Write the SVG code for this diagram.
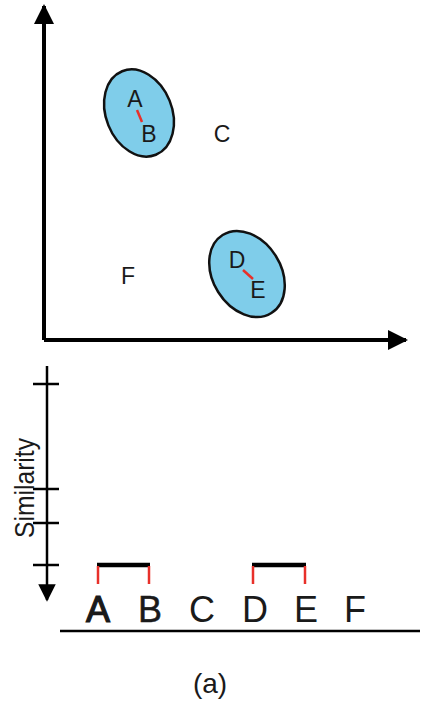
<svg xmlns="http://www.w3.org/2000/svg" width="423" height="708" viewBox="0 0 423 708">
<style>
.lbl{font-family:"Liberation Sans",Arial,sans-serif;fill:#1a1a1a;text-anchor:middle}
.pt{font-size:23px}
.big{font-size:36px}
.axis{stroke:#000;stroke-width:4;fill:none}
.clu{fill:#7fcdea;stroke:#111;stroke-width:2.5}
.red{stroke:#e8302a;stroke-width:2.5;fill:none}
.bar{stroke:#000;stroke-width:4.5;fill:none}
.tick{stroke:#000;stroke-width:2.5;fill:none}
</style>
<defs>
<marker id="ah" viewBox="0 0 10 10" refX="9" refY="5" markerWidth="5" markerHeight="5" orient="auto" markerUnits="strokeWidth">
<path d="M0,0 L10,5 L0,10 Z" fill="#000"/>
</marker>
<marker id="ah2" viewBox="0 0 10 10" refX="9" refY="5" markerWidth="7" markerHeight="7" orient="auto" markerUnits="strokeWidth">
<path d="M0,0 L10,5 L0,10 Z" fill="#000"/>
</marker>
</defs>
<g id="cluster-AB">
<ellipse class="clu" cx="139" cy="113" rx="33" ry="45" transform="rotate(-22 139 113)"/>
</g>
<g id="cluster-DE">
<ellipse class="clu" cx="247" cy="274" rx="34" ry="46" transform="rotate(-32 247 274)"/>
</g>
<g id="connectors">
<line class="axis" x1="44" y1="340" x2="44" y2="6" marker-end="url(#ah)"/>
<line class="axis" x1="44" y1="340" x2="406" y2="340" marker-end="url(#ah)"/>
<line class="red" x1="137" y1="110" x2="142" y2="122"/>
<line class="red" x1="243" y1="270" x2="253" y2="279"/>
<line stroke="#000" stroke-width="2.5" x1="47" y1="366" x2="47" y2="600" marker-end="url(#ah2)"/>
<line class="tick" x1="33" y1="384" x2="59" y2="384"/>
<line class="tick" x1="33" y1="489" x2="59" y2="489"/>
<line class="tick" x1="33" y1="523" x2="59" y2="523"/>
<line class="tick" x1="33" y1="565" x2="59" y2="565"/>
<line class="bar" x1="97" y1="565" x2="150" y2="565"/>
<line class="red" x1="98" y1="566" x2="98" y2="584"/>
<line class="red" x1="149" y1="566" x2="149" y2="584"/>
<line class="bar" x1="252" y1="565" x2="306" y2="565"/>
<line class="red" x1="253" y1="566" x2="253" y2="584"/>
<line class="red" x1="305" y1="566" x2="305" y2="584"/>
<line stroke="#000" stroke-width="2.5" x1="60" y1="631" x2="420" y2="631"/>
</g>
<g id="node-A"><text class="lbl pt" x="135" y="107">A</text></g>
<g id="node-B"><text class="lbl pt" x="149" y="142">B</text></g>
<g id="node-C"><text class="lbl pt" x="222" y="142">C</text></g>
<g id="node-D"><text class="lbl pt" x="237" y="268">D</text></g>
<g id="node-E"><text class="lbl pt" x="258" y="298">E</text></g>
<g id="node-F"><text class="lbl pt" x="128" y="284">F</text></g>
<g id="axis-label">
<text class="lbl" font-size="28" transform="translate(34 488) rotate(-90)" textLength="100" lengthAdjust="spacingAndGlyphs">Similarity</text>
</g>
<g id="leaves">
<text class="lbl big" x="98" y="622" stroke="#1a1a1a" stroke-width="1.2">A</text>
<text class="lbl big" x="150" y="622" stroke="#1a1a1a" stroke-width="0.5">B</text>
<text class="lbl big" x="202" y="622">C</text>
<text class="lbl big" x="255" y="622">D</text>
<text class="lbl big" x="306" y="622">E</text>
<text class="lbl big" x="355" y="622">F</text>
</g>
<g id="caption"><text class="lbl" font-size="28" x="210" y="693">(a)</text></g>
</svg>
